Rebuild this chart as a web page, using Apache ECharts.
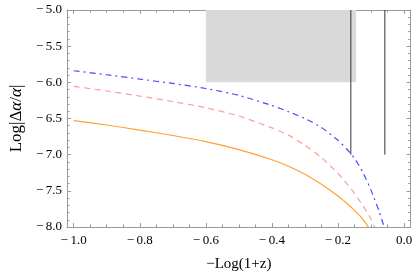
<!DOCTYPE html>
<html>
<head>
<meta charset="utf-8">
<script src="https://cdn.jsdelivr.net/npm/echarts@6/dist/echarts.min.js"></script>
<style>
html,body{margin:0;padding:0;background:#fff;}
#chart{width:415px;height:277px;}
</style>
</head>
<body>
<div id="chart"></div>
<script>
// ---- data ----
var xTicks = [-1.0, -0.8, -0.6, -0.4, -0.2, 0.0];
var yTicks = [-8.0, -7.5, -7.0, -6.5, -6.0, -5.5, -5.0];

var orangeX = [-1.0, -0.9, -0.8, -0.7, -0.6, -0.5, -0.4, -0.35, -0.3, -0.25, -0.2, -0.175, -0.15, -0.125, -0.108];
var orangeY = [-6.53, -6.59, -6.66, -6.735, -6.82, -6.93, -7.07, -7.16, -7.27, -7.41, -7.57, -7.665, -7.77, -7.89, -8.0];

var pinkX = [-1.0, -0.9, -0.8, -0.7, -0.6, -0.5, -0.4, -0.35, -0.3, -0.25, -0.2, -0.175, -0.15, -0.125, -0.1, -0.089];
var pinkY = [-6.055, -6.12, -6.19, -6.265, -6.35, -6.465, -6.63, -6.73, -6.87, -7.04, -7.26, -7.39, -7.535, -7.70, -7.89, -8.0];

var blueX = [-1.0, -0.9, -0.8, -0.7, -0.6, -0.5, -0.4, -0.35, -0.3, -0.25, -0.2, -0.175, -0.15, -0.125, -0.1, -0.075, -0.06];
var blueY = [-5.84, -5.895, -5.955, -6.015, -6.085, -6.18, -6.32, -6.405, -6.50, -6.625, -6.80, -6.915, -7.05, -7.24, -7.49, -7.79, -8.0];

var boxX = [-0.6, -0.145];
var boxY = [-6.0, -5.0];

var vLineX = [-0.161, -0.058];
var vLineY = [-7.0, -5.0];

var xRange = [-1.02, 0.02];
var yRange = [-8.0, -5.0];

// ---- helpers ----
function zip(xs, ys) { return xs.map(function (x, i) { return [x, ys[i]]; }); }
function fmt(v) {
  var r = Math.round(v * 10) / 10;
  if (Math.abs(r) < 1e-9) return '0.0';
  return (r < 0 ? '\u2212\u2009' : '') + Math.abs(r).toFixed(1);
}
var xMinor = [];
for (var i = 0; i < xTicks.length - 1; i++) {
  for (var k = 1; k < 4; k++) xMinor.push(Math.round((xTicks[i] + k * 0.05) * 1000) / 1000);
}

var frameColor = '#9a9a9a';
var serif = 'Liberation Serif';

function xAxisDef(pos, showLabels, ticks, len) {
  return {
    type: 'value', position: pos, min: xRange[0], max: xRange[1],
    axisLine: { show: true, onZero: false, lineStyle: { color: frameColor, width: 1 } },
    axisTick: { show: true, inside: true, length: len, customValues: ticks, lineStyle: { color: frameColor } },
    axisLabel: { show: showLabels, customValues: ticks, formatter: fmt, color: '#000', fontFamily: serif, fontSize: 13, margin: 7 },
    splitLine: { show: false }
  };
}
function yAxisDef(pos, showLabels) {
  return {
    type: 'value', position: pos, min: yRange[0], max: yRange[1], interval: 0.5,
    axisLine: { show: true, onZero: false, lineStyle: { color: frameColor, width: 1 } },
    axisTick: { show: true, inside: true, length: 4, lineStyle: { color: frameColor } },
    minorTick: { show: true, splitNumber: 5, length: 2.5, lineStyle: { color: frameColor } },
    axisLabel: { show: showLabels, formatter: fmt, color: '#000', fontFamily: serif, fontSize: 13, margin: 5 },
    splitLine: { show: false }, minorSplitLine: { show: false }
  };
}

var xAxes = [
  xAxisDef('bottom', true, xTicks, 4),
  xAxisDef('bottom', false, xMinor, 2.5),
  xAxisDef('top', false, xTicks, 4),
  xAxisDef('top', false, xMinor, 2.5)
];
xAxes[0].name = '\u2212Log(1+z)';
xAxes[0].nameLocation = 'middle';
xAxes[0].nameGap = 30;
xAxes[0].nameTextStyle = { color: '#000', fontFamily: serif, fontSize: 15 };

var yAxes = [yAxisDef('left', true), yAxisDef('right', false)];
yAxes[0].name = '{n|Log|Δ}{i|α}{n|/}{i|α}{n||}';
yAxes[0].nameLocation = 'middle';
yAxes[0].nameGap = 40;
yAxes[0].nameTextStyle = {
  color: '#000', fontFamily: serif, fontSize: 17,
  rich: {
    n: { fontFamily: serif, fontSize: 17, color: '#000' },
    i: { fontFamily: serif, fontSize: 17, fontStyle: 'italic', color: '#000' }
  }
};

function curve(xs, ys, style) {
  return { type: 'line', showSymbol: false, smooth: 0.2, z: 3, data: zip(xs, ys), lineStyle: style };
}

var option = {
  animation: false,
  backgroundColor: '#fff',
  grid: { left: 60, right: 4, top: 10, bottom: 49, containLabel: false },
  xAxis: xAxes,
  yAxis: yAxes,
  series: [
    {
      type: 'line', data: [], silent: true,
      markArea: {
        silent: true,
        itemStyle: { color: '#d9d9d9', opacity: 1 },
        data: [[{ coord: [boxX[0], boxY[0]] }, { coord: [boxX[1], boxY[1]] }]]
      },
      z: 1
    },
    curve(orangeX, orangeY, { color: '#ffa033', width: 1.2 }),
    curve(pinkX, pinkY, { color: '#ff9c9c', width: 1.2, type: [6, 4.5] }),
    curve(blueX, blueY, { color: '#4a4aff', width: 1.2, type: [6, 4, 2, 4] }),
    {
      type: 'line', data: zip([vLineX[0], vLineX[0]], vLineY), showSymbol: false,
      lineStyle: { color: '#333', width: 1 }, z: 4
    },
    {
      type: 'line', data: zip([vLineX[1], vLineX[1]], vLineY), showSymbol: false,
      lineStyle: { color: '#333', width: 1 }, z: 4
    }
  ]
};

var chart = echarts.init(document.getElementById('chart'), null, { renderer: 'canvas' });
chart.setOption(option);
</script>
</body>
</html>
